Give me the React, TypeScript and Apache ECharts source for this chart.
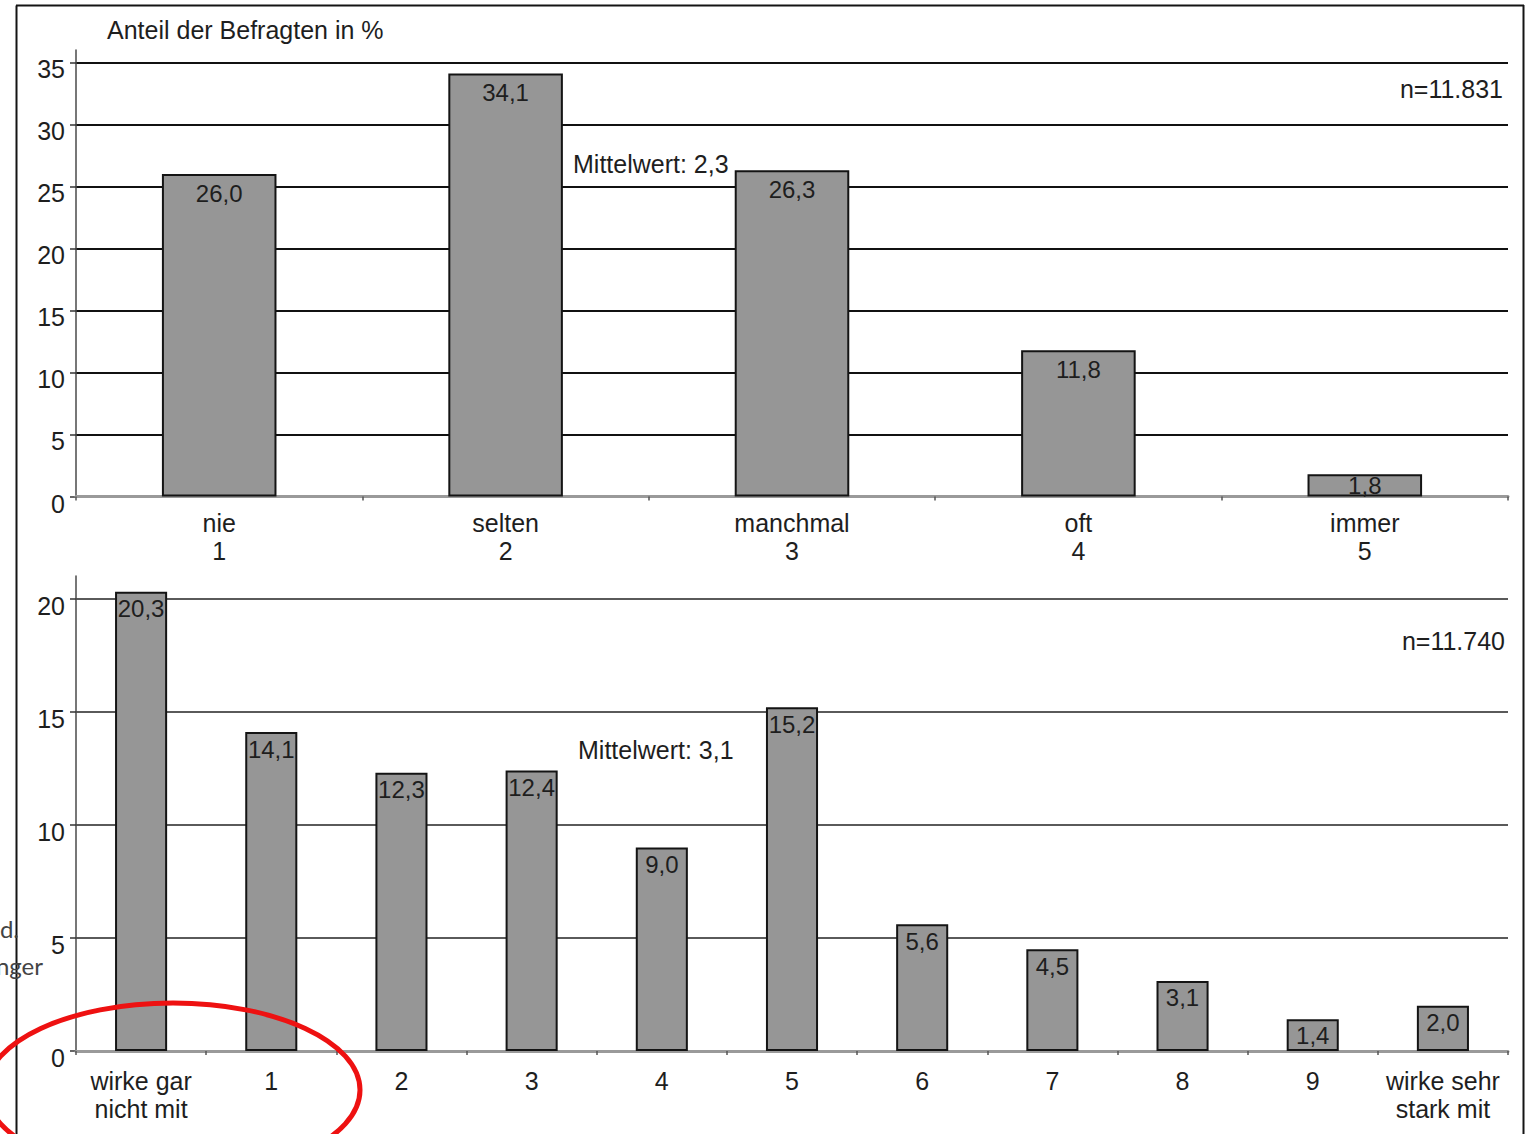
import React, { useEffect, useRef } from "react";
import * as echarts from "echarts";

// Upper panel: how often respondents answer (1 = nie … 5 = immer)
const freqCategories = ["nie\n1", "selten\n2", "manchmal\n3", "oft\n4", "immer\n5"];
const freqValues = [26.0, 34.1, 26.3, 11.8, 1.8];
const freqTicks = [0, 5, 10, 15, 20, 25, 30, 35];
const freqN = "n=11.831";
const freqMean = "Mittelwert: 2,3";

// Lower panel: self-rated participation on a 0–10 scale
const scaleCategories = [
  "wirke gar\nnicht mit",
  "1",
  "2",
  "3",
  "4",
  "5",
  "6",
  "7",
  "8",
  "9",
  "wirke sehr\nstark mit",
];
const scaleValues = [20.3, 14.1, 12.3, 12.4, 9.0, 15.2, 5.6, 4.5, 3.1, 1.4, 2.0];
const scaleTicks = [0, 5, 10, 15, 20];
const scaleN = "n=11.740";
const scaleMean = "Mittelwert: 3,1";

const axisTitle = "Anteil der Befragten in %";
const marginFragments = ["d.", "nger"];

const FONT = '"Liberation Sans", Arial, Helvetica, sans-serif';
const INK = "#1e1e1e";

const fmt = (v: number) => v.toFixed(1).replace(".", ",");

function valueAxis(gridIndex: number, max: number, ticks: number[], splitColor: string) {
  return {
    type: "value",
    gridIndex,
    min: 0,
    max,
    interval: 5,
    axisLine: { show: true, lineStyle: { color: "#4a4a4a", width: 1.5 } },
    axisTick: { show: true, length: 6, customValues: ticks, lineStyle: { color: "#333", width: 1.5 } },
    axisLabel: {
      customValues: ticks,
      fontFamily: FONT,
      fontSize: 25,
      color: INK,
      margin: 11,
      verticalAlign: "top",
      lineHeight: 14,
    },
    splitLine: { show: true, lineStyle: { color: splitColor, width: 2 } },
  };
}

function categoryAxis(gridIndex: number, data: string[], margin: number) {
  return {
    type: "category",
    gridIndex,
    data,
    z: 1,
    axisLine: { show: true, lineStyle: { color: "#9a9a9a", width: 3 } },
    axisTick: { show: true, length: 4, lineStyle: { color: "#555", width: 1.5 } },
    axisLabel: {
      interval: 0,
      fontFamily: FONT,
      fontSize: 25,
      color: INK,
      lineHeight: 28,
      margin,
    },
  };
}

// Very short bars carry their value label centred in the bar instead of at the top
function barData(values: number[]) {
  return values.map((v) => (v < 2 ? { value: v, label: { position: "inside" } } : v));
}

function barSeries(index: number, values: number[], distance: number) {
  return {
    type: "bar",
    xAxisIndex: index,
    yAxisIndex: index,
    data: barData(values),
    barWidth: "40%",
    itemStyle: { color: "#969696", borderColor: "#141414", borderWidth: 2 },
    label: {
      show: true,
      position: "insideTop",
      distance,
      formatter: (p: any) => fmt(p.value),
      fontFamily: FONT,
      fontSize: 24,
      lineHeight: 24,
      color: INK,
      textBorderWidth: 0,
    },
  };
}

function text(x: number, y: number, str: string, align: string, extra: any = {}) {
  return {
    type: "text",
    x,
    y,
    z: 10,
    style: {
      text: str,
      fontFamily: FONT,
      fontSize: 25,
      fill: INK,
      textAlign: align,
      textVerticalAlign: "middle",
      ...extra,
    },
  };
}

export default function App() {
  const ref = useRef<HTMLDivElement>(null);

  useEffect(() => {
    if (!ref.current) return;
    const chart = echarts.init(ref.current, null, { renderer: "svg" });
    const frame = { stroke: "#141414", lineWidth: 2 };
    chart.setOption({
      animation: false,
      backgroundColor: "#ffffff",
      grid: [
        { left: 76, top: 50, width: 1432, height: 446.5, outerBoundsMode: "none" },
        { left: 76, top: 576, width: 1432, height: 475, outerBoundsMode: "none" },
      ],
      xAxis: [categoryAxis(0, freqCategories, 12), categoryAxis(1, scaleCategories, 16)],
      yAxis: [valueAxis(0, 36, freqTicks, "#111"), valueAxis(1, 21, scaleTicks, "#5a5a5a")],
      series: [barSeries(0, freqValues, 7), barSeries(1, scaleValues, 5)],
      graphic: [
        // page frame
        { type: "line", z: 10, shape: { x1: 16.5, y1: 5.5, x2: 16.5, y2: 1134 }, style: frame },
        { type: "line", z: 10, shape: { x1: 16, y1: 5.5, x2: 1524, y2: 5.5 }, style: frame },
        { type: "line", z: 10, shape: { x1: 1523.5, y1: 5, x2: 1523.5, y2: 1134 }, style: frame },
        text(107, 30, axisTitle, "left"),
        text(1503, 89, freqN, "right"),
        text(573, 164, freqMean, "left"),
        text(1505, 641, scaleN, "right"),
        text(578, 750, scaleMean, "left"),
        text(19, 928, marginFragments[0], "right", {
          fontFamily: 'Lato, "Open Sans", sans-serif',
          fill: "#444",
          fontSize: 24,
        }),
        text(43, 965, marginFragments[1], "right", {
          fontFamily: 'Lato, "Open Sans", sans-serif',
          fill: "#444",
          fontSize: 24,
        }),
        // red highlight around the lowest category
        {
          type: "ellipse",
          z: 20,
          shape: { cx: 173, cy: 1090, rx: 187, ry: 87 },
          style: { fill: "none", stroke: "#ee1111", lineWidth: 5 },
        },
      ],
    });
    return () => chart.dispose();
  }, []);

  return (
    <div
      ref={ref}
      style={{ position: "absolute", left: 0, top: 0, width: 1529, height: 1134, background: "#fff" }}
    />
  );
}
